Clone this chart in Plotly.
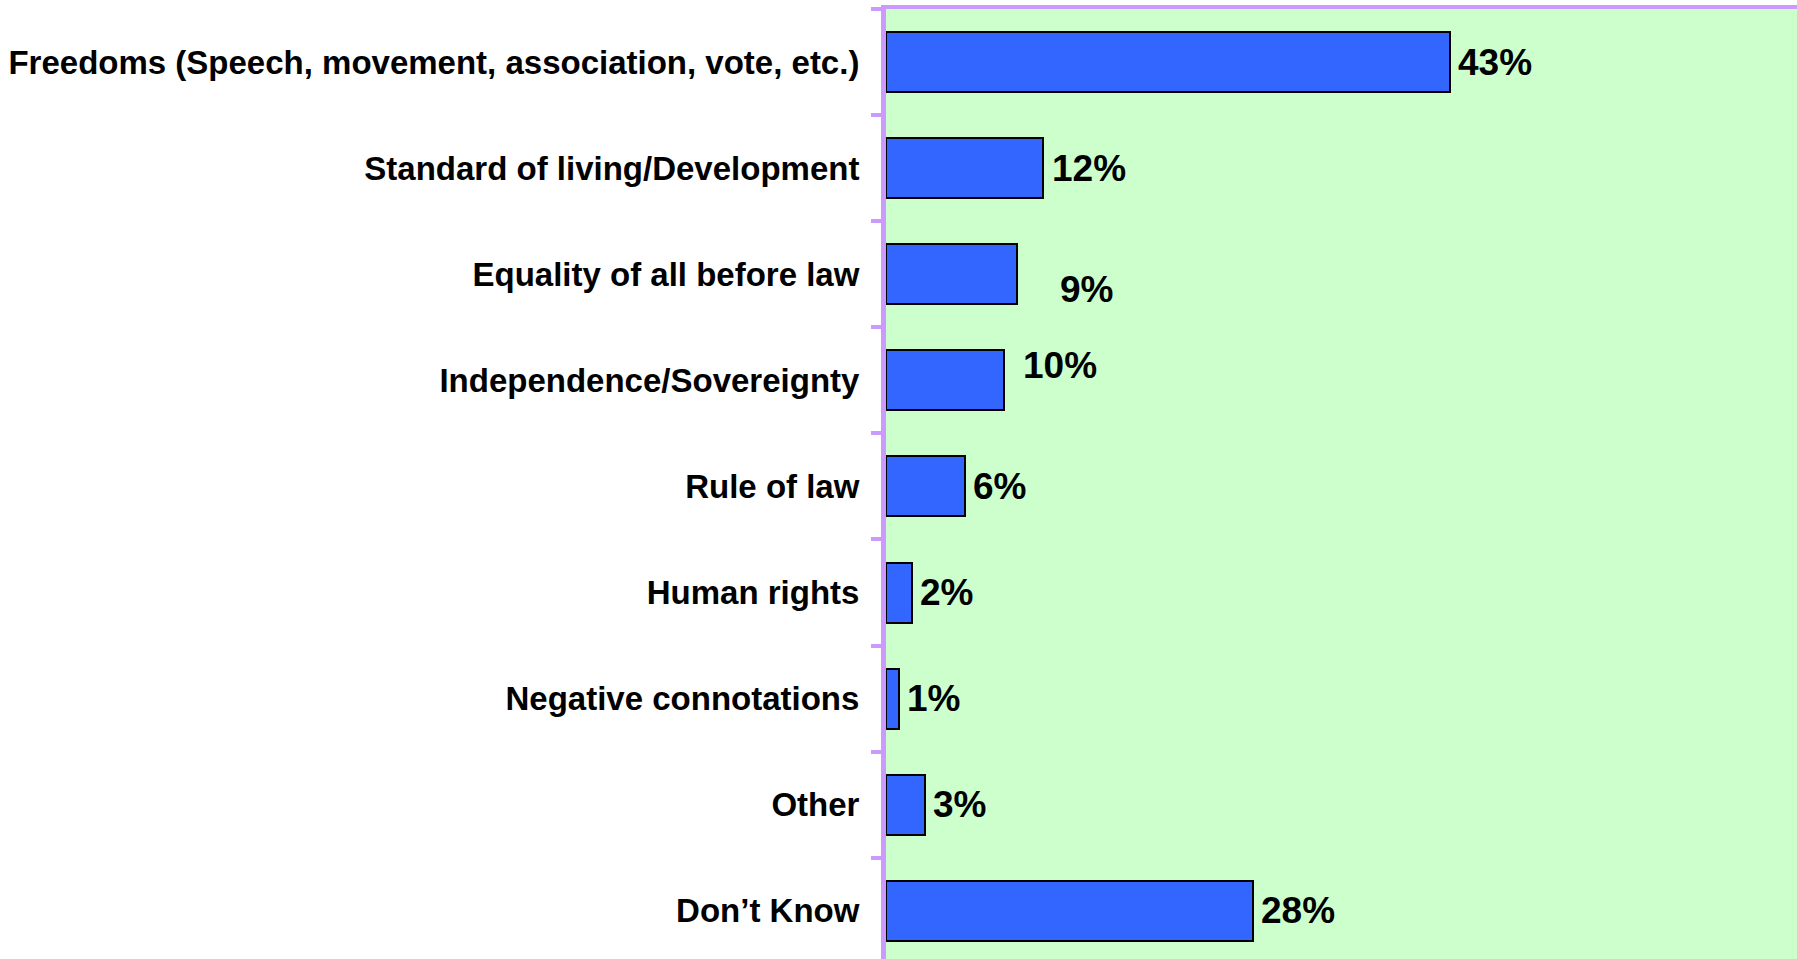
import plotly.graph_objects as go

categories = [
    "Freedoms (Speech, movement, association, vote, etc.)",
    "Standard of living/Development",
    "Equality of all before law",
    "Independence/Sovereignty",
    "Rule of law",
    "Human rights",
    "Negative connotations",
    "Other",
    "Don\u2019t Know",
]
bar_values = [43, 12, 10, 9, 6, 2, 1, 3, 28]
value_labels = ["43%", "12%", "9%", "10%", "6%", "2%", "1%", "3%", "28%"]

label_xshift = [6, 7, 41, 17, 6, 6, 6, 6, 6]
label_yshift = [0, 0, -15, 15, 0, 0, 0, 0, 0]

PURPLE = "#CC99FF"
FONT = "Liberation Sans, Arial, sans-serif"

fig = go.Figure()
fig.add_trace(go.Bar(
    x=bar_values,
    y=categories,
    orientation="h",
    width=0.565,
    marker=dict(color="#3366FF", line=dict(color="black", width=2)),
    hoverinfo="skip",
))

for cat, val, lab, dx, dy in zip(categories, bar_values, value_labels, label_xshift, label_yshift):
    fig.add_annotation(
        x=val, y=cat, text=lab, showarrow=False,
        xanchor="left", yanchor="middle", xshift=dx, yshift=dy,
        font=dict(family=FONT, size=37, color="black", weight=700),
    )

fig.update_layout(
    width=1797, height=959,
    margin=dict(l=886, r=0, t=9, b=0),
    plot_bgcolor="#CCFFCC",
    paper_bgcolor="white",
    showlegend=False,
    bargap=0,
)
fig.update_xaxes(
    side="top", range=[0, 69.5], showline=True, linecolor=PURPLE, linewidth=4,
    showticklabels=False, showgrid=False, zeroline=False, ticks="",
)
fig.update_yaxes(
    type="category", categoryorder="array", categoryarray=categories,
    range=[8.454, -0.5],
    showline=True, linecolor=PURPLE, linewidth=5,
    ticks="outside", ticklen=10, tickwidth=4, tickcolor=PURPLE, tickson="boundaries",
    showgrid=False, zeroline=False,
    tickfont=dict(family=FONT, size=33, color="black", weight=700),
    ticklabelstandoff=15,
)

fig.write_html(
    "out.html",
    config={"displayModeBar": False},
    post_script="document.body.style.margin='0';document.body.style.overflow='hidden';",
)
